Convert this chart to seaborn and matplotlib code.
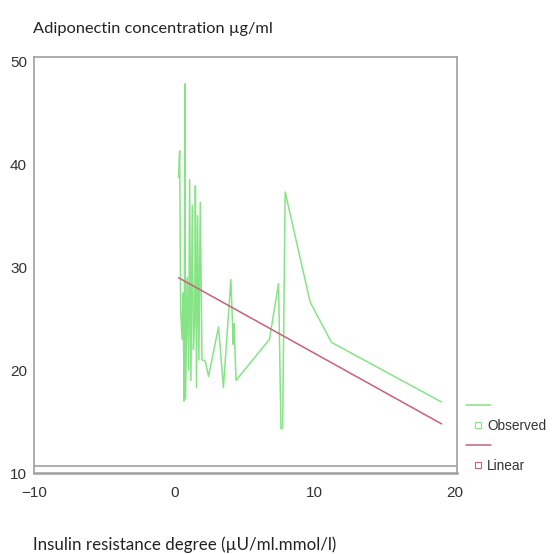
import numpy as np
import pandas as pd
import matplotlib
matplotlib.use("Agg")
import matplotlib.pyplot as plt
from matplotlib.lines import Line2D
import seaborn as sns

insulin_res = [0.30, 0.38, 0.45, 0.55, 0.62, 0.70, 0.75, 0.80, 0.92, 1.02,
               1.09, 1.18, 1.28, 1.36, 1.45, 1.50, 1.58, 1.66, 1.75, 1.85,
               1.97, 2.20, 2.44, 3.15, 3.50, 4.03, 4.20, 4.25, 4.40, 6.78,
               7.43, 7.60, 7.72, 7.90, 9.68, 11.20, 19.05]
adiponectin = [38.7, 41.3, 26.0, 23.0, 27.5, 17.0, 47.8, 17.2, 29.0, 20.0,
               38.5, 19.0, 36.0, 22.0, 25.0, 37.9, 18.3, 35.0, 21.0, 36.3,
               21.0, 20.9, 19.4, 24.2, 18.3, 28.8, 22.5, 24.5, 19.0, 23.0,
               28.4, 14.3, 14.4, 37.3, 26.6, 22.7, 16.9]

# linear fit coefficients
b0 = 29.2
b1 = -0.757

x_ticks = [-10, 0, 10, 20]
y_ticks = [10, 20, 30, 40, 50]

obs_color = "#86e486"
lin_color = "#c8607a"
grey = "#a0a0a0"

sns.set_style("white")
plt.rcParams['font.family'] = ['Liberation Sans', 'DejaVu Sans']

df = pd.DataFrame({"x": insulin_res, "y": adiponectin})
df["fit"] = b0 + b1 * df["x"]

fig = plt.figure(figsize=(5.53, 5.54), dpi=100)
ax = fig.add_axes([0.0615, 0.146, 0.765, 0.751])

sns.lineplot(data=df, x="x", y="y", ax=ax, color=obs_color, lw=1.1,
             estimator=None, sort=True)
sns.lineplot(data=df, x="x", y="fit", ax=ax, color=lin_color, lw=1.1,
             estimator=None, sort=True)

ax.axhline(10.65, color=grey, lw=1.2)
ax.set_xlim(-10, 20.15)
ax.set_ylim(10, 50.4)
ax.set_xticks(x_ticks)
ax.set_yticks(y_ticks)
ax.set_xlabel("")
ax.set_ylabel("")
ax.tick_params(axis="both", direction="out", length=3, width=0.8, color=grey,
               labelsize=11, labelcolor="#333333", pad=2)
ax.tick_params(axis="x", pad=6)
for s in ax.spines.values():
    s.set_color(grey)
    s.set_linewidth(1.2)
ax.spines["bottom"].set_linewidth(1.8)

fig.text(0.06, 0.948, "Adiponectin concentration µg/ml", fontsize=11.8,
         family=["Lato", "DejaVu Sans"], color="#222222", va="center")
fig.text(0.06, 0.016, "Insulin resistance degree (µU/ml.mmol/l)", fontsize=12.2,
         family=["Lato", "DejaVu Sans"], color="#222222", va="center")

handles = [Line2D([0], [0], color=obs_color, lw=1.1),
           Line2D([0], [0], color=obs_color, marker="s", ls="none", ms=4,
                  markerfacecolor="none", markeredgewidth=0.8),
           Line2D([0], [0], color=lin_color, lw=1.1),
           Line2D([0], [0], color=lin_color, marker="s", ls="none", ms=4,
                  markerfacecolor="none", markeredgewidth=0.8)]
labels = ["", "Observed", "", "Linear"]
leg = fig.legend(handles, labels, loc="upper left", bbox_to_anchor=(0.832, 0.29),
                 frameon=False, fontsize=9.8, handlelength=1.9, handletextpad=-0.3,
                 labelspacing=0.45, borderaxespad=0)
for t in leg.get_texts():
    t.set_color("#333333")

fig.savefig("out.png", dpi=100)
